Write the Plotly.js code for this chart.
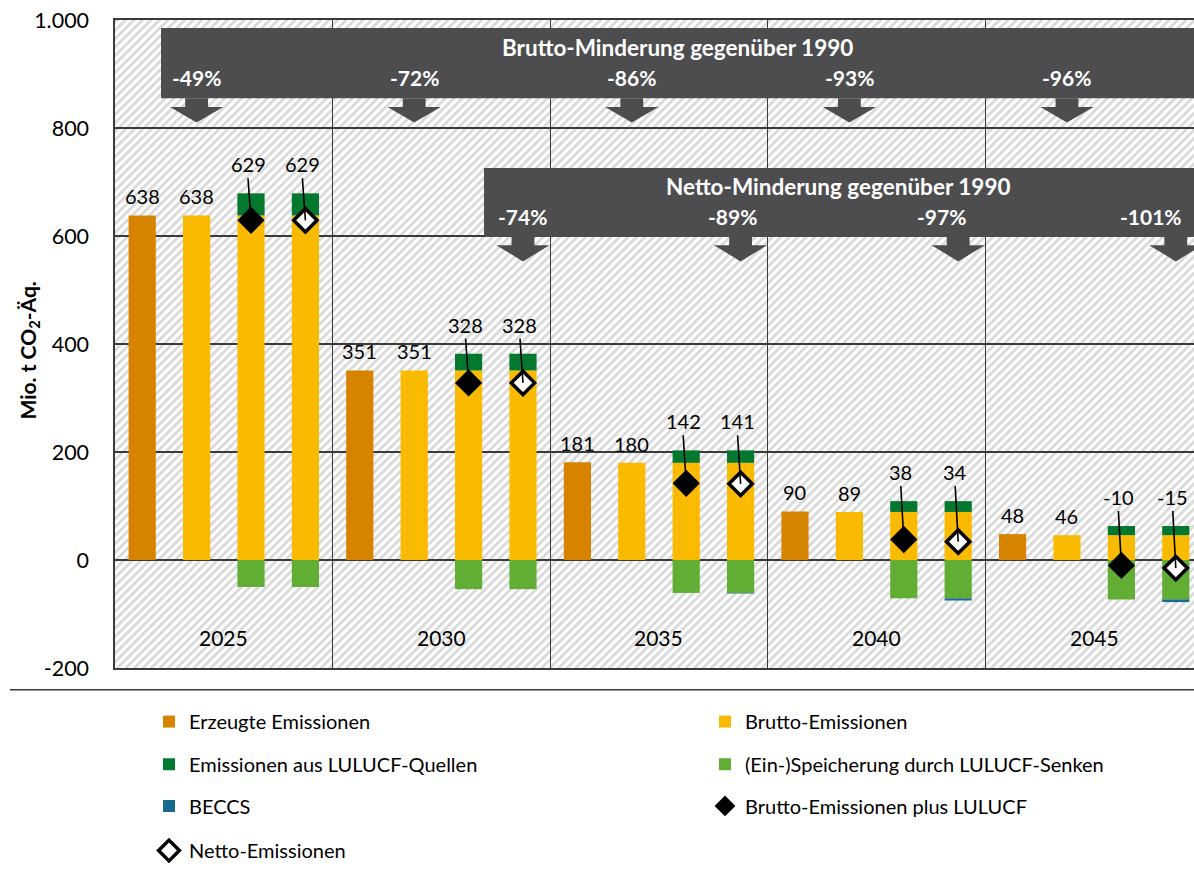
<!DOCTYPE html>
<html><head><meta charset="utf-8">
<script src="https://cdn.plot.ly/plotly-3.0.1.min.js"></script>
<style>html,body{margin:0;padding:0;background:#fff}#chart{width:1194px;height:870px}</style>
</head><body><div id="chart"></div>
<script>
// ---------- data ----------
const years = ['2025','2030','2035','2040','2045'];
const erzeugt = [638, 351, 181, 90, 48];
const brutto = [638, 351, 180, 89, 46];
const lulucfQuellen = [41, 31, 23, 20, 17];
const lulucfSenken = [-50, -54, -61, -71, -73];
const beccs = [0, 0, -1, -4, -5];
const bruttoPlusLulucf = [629, 328, 142, 38, -10];
const netto = [629, 328, 141, 34, -15];
const bruttoMinderung = ['-49%', '-72%', '-86%', '-93%', '-96%'];
const nettoYears = ['2030', '2035', '2040', '2045'];
const nettoMinderung = ['-74%', '-89%', '-97%', '-101%'];
const yTickVals = [-200, 0, 200, 400, 600, 800, 1000];
const yTickText = ['-200', '0', '200', '400', '600', '800', '1.000'];
const names = {
  erzeugt: 'Erzeugte Emissionen',
  brutto: 'Brutto-Emissionen',
  quellen: 'Emissionen aus LULUCF-Quellen',
  senken: '(Ein-)Speicherung durch LULUCF-Senken',
  beccs: 'BECCS',
  bpl: 'Brutto-Emissionen plus LULUCF',
  netto: 'Netto-Emissionen'
};
const bannerTitles = ['Brutto-Minderung gegenüber 1990', 'Netto-Minderung gegenüber 1990'];

// ---------- layout constants ----------
const W = 1194, H = 870;
const L = 115, R = 0, T = 20, B = 197;
const plotW = W - L - R, plotH = H - T - B;
const xMin = -0.5, xMax = 19.335;
const yMin = -200, yMax = 1000;
const FONT = 'Lato, "Open Sans", sans-serif';
const C = {
  erzeugt: '#D68400', brutto: '#FABA00', quellen: '#04782E',
  senken: '#62AE35', beccs: '#166A8E', banner: '#4D4D4F', grid: '#3a3a3a'
};
const barW = 0.5;
const slot = (g, k) => 4 * g + k;
const gi = years.map((_, g) => g);
const rep = (arr, n) => [].concat(...Array(n).fill(arr));

// ---------- traces ----------
const traces = [
  {type: 'bar', name: names.erzeugt, x: gi.map(g => slot(g, 0)), y: erzeugt,
   width: barW, marker: {color: C.erzeugt}, legend: 'legend'},
  {type: 'bar', name: names.brutto,
   x: [].concat(gi.map(g => slot(g, 1)), gi.map(g => slot(g, 2)), gi.map(g => slot(g, 3))),
   y: rep(brutto, 3), width: barW, marker: {color: C.brutto}, legend: 'legend2'},
  {type: 'bar', name: names.quellen,
   x: [].concat(gi.map(g => slot(g, 2)), gi.map(g => slot(g, 3))),
   y: rep(lulucfQuellen, 2), width: barW, marker: {color: C.quellen}, legend: 'legend3'},
  {type: 'bar', name: names.senken,
   x: [].concat(gi.map(g => slot(g, 2)), gi.map(g => slot(g, 3))),
   y: rep(lulucfSenken, 2), width: barW, marker: {color: C.senken}, legend: 'legend4'},
  {type: 'bar', name: names.beccs, x: gi.map(g => slot(g, 3)), y: beccs,
   width: barW, marker: {color: C.beccs}, legend: 'legend5'},
  {type: 'scatter', mode: 'markers', name: names.bpl, x: gi.map(g => slot(g, 2)), y: bruttoPlusLulucf,
   marker: {symbol: 'diamond', size: 21, color: '#000'}, legend: 'legend6'},
  {type: 'scatter', mode: 'markers', name: names.netto, x: gi.map(g => slot(g, 3)), y: netto,
   marker: {symbol: 'diamond', size: 18, color: '#fff', line: {color: '#000', width: 3.5}}, legend: 'legend7'}
];

// ---------- annotations ----------
const ann = [];
const labelFont = {family: FONT, size: 20, color: '#000'};
gi.forEach(g => {
  ann.push({x: slot(g, 0), y: erzeugt[g], text: String(erzeugt[g]), showarrow: false,
    yanchor: 'bottom', yshift: 5, font: labelFont});
  ann.push({x: slot(g, 1), y: brutto[g], text: String(brutto[g]), showarrow: false,
    yanchor: 'bottom', yshift: 5, font: labelFont});
  const top = brutto[g] + lulucfQuellen[g];
  [[2, bruttoPlusLulucf[g]], [3, netto[g]]].forEach(([k, v]) => {
    ann.push({x: slot(g, k), y: v, text: String(v), showarrow: true, arrowhead: 0,
      arrowwidth: 1.6, arrowcolor: '#000', standoff: 0, startstandoff: 0,
      axref: 'pixel', ax: -3, ayref: 'y', ay: top + 28, yanchor: 'bottom',
      font: labelFont});
  });
  ann.push({x: slot(g, 1.5), y: -143, text: years[g], showarrow: false,
    font: {family: FONT, size: 21, color: '#000'}});
});

// y-axis title
ann.push({xref: 'paper', yref: 'paper', x: (29 - L) / plotW, y: 0.49, xanchor: 'center',
  yanchor: 'middle', textangle: -90,
  text: '<b>Mio. t CO<sub>2</sub>-Äq.</b>', showarrow: false,
  font: {family: FONT, size: 21, color: '#000'}});

// ---------- banners ----------
const shapes = [];
const bruttoBanner = {x0: 0.346, y0: 855, y1: 985, arrowHead: 839, tip: 810};
const nettoBanner = {x0: 6.283, y0: 598, y1: 726, arrowHead: 583, tip: 553};
const stemHW = 0.21, headHW = 0.49;
function arrow(xc, b) {
  return 'M' + (xc - stemHW) + ',' + b.y0 + ' L' + (xc + stemHW) + ',' + b.y0 +
    ' L' + (xc + stemHW) + ',' + b.arrowHead + ' L' + (xc + headHW) + ',' + b.arrowHead +
    ' L' + xc + ',' + b.tip + ' L' + (xc - headHW) + ',' + b.arrowHead +
    ' L' + (xc - stemHW) + ',' + b.arrowHead + ' Z';
}
[bruttoBanner, nettoBanner].forEach((b, i) => {
  shapes.push({type: 'rect', xref: 'x', yref: 'y', x0: b.x0, x1: xMax + 2, y0: b.y0, y1: b.y1,
    fillcolor: C.banner, line: {width: 0}, layer: 'above'});
  ann.push({x: (b.x0 + xMax) / 2, y: b.y1 - 35, text: '<b>' + bannerTitles[i] + '</b>',
    showarrow: false, font: {family: FONT, size: 22.5, color: '#fff'}});
});
gi.forEach(g => {
  const xc = slot(g, 1);
  shapes.push({type: 'path', xref: 'x', yref: 'y', path: arrow(xc, bruttoBanner),
    fillcolor: C.banner, line: {width: 0}, layer: 'above'});
  ann.push({x: xc, y: 893, text: '<b>' + bruttoMinderung[g] + '</b>', showarrow: false,
    font: {family: FONT, size: 21, color: '#fff'}});
});
nettoYears.forEach((yr, j) => {
  const g = years.indexOf(yr);
  const xc = slot(g, 3);
  shapes.push({type: 'path', xref: 'x', yref: 'y', path: arrow(xc, nettoBanner),
    fillcolor: C.banner, line: {width: 0}, layer: 'above'});
  ann.push({x: Math.min(xc - 0.15 * j, xMax - 0.78), y: 636, text: '<b>' + nettoMinderung[j] + '</b>',
    showarrow: false, font: {family: FONT, size: 21, color: '#fff'}});
});

// separator line below the plot
shapes.push({type: 'line', xref: 'paper', yref: 'paper', x0: (10 - L) / plotW, x1: 1,
  y0: -22 / plotH, y1: -22 / plotH, line: {color: '#3a3a3a', width: 1.5}});

// ---------- hatch background ----------
const svg = '<svg xmlns="http://www.w3.org/2000/svg" width="' + plotW + '" height="' + plotH + '">' +
  '<defs><pattern id="h" width="6" height="6" patternUnits="userSpaceOnUse" patternTransform="rotate(45)">' +
  '<rect width="6" height="6" fill="#ffffff"/><rect width="2.8" height="6" fill="#d9d9d9"/></pattern></defs>' +
  '<rect width="100%" height="100%" fill="url(#h)"/></svg>';
const hatch = 'data:image/svg+xml;base64,' + btoa(svg);

// ---------- legends ----------
const legendFont = {family: FONT, size: 20, color: '#000'};
const col1 = (149 - L) / plotW, col2 = (705 - L) / plotW;
const rowY = py => (T + plotH - py) / plotH;
const mkLeg = (x, py) => ({x: x, y: rowY(py), xanchor: 'left', yanchor: 'middle',
  orientation: 'h', bgcolor: 'rgba(0,0,0,0)', font: legendFont, borderwidth: 0});

const layout = {
  width: W, height: H,
  margin: {l: L, r: R, t: T, b: B, pad: 0},
  paper_bgcolor: '#fff', plot_bgcolor: 'rgba(0,0,0,0)',
  separators: ',.',
  barmode: 'relative',
  font: {family: FONT, size: 20, color: '#000'},
  xaxis: {range: [xMin, xMax], tickvals: [3.5, 7.5, 11.5, 15.5], showticklabels: false,
    ticks: '', showgrid: true, gridcolor: C.grid, gridwidth: 1.3, zeroline: false,
    showline: true, mirror: true, linecolor: C.grid, linewidth: 1.6, fixedrange: true},
  yaxis: {range: [yMin, yMax], tickvals: yTickVals, ticktext: yTickText,
    tickfont: {family: FONT, size: 21.5, color: '#000'}, ticks: '', ticklabelstandoff: 20,
    showgrid: true, gridcolor: C.grid, gridwidth: 1.3, zeroline: false,
    showline: true, linecolor: C.grid, linewidth: 1.6, fixedrange: true},
  images: [{source: hatch, xref: 'paper', yref: 'paper', x: 0, y: 1, sizex: 1, sizey: 1,
    xanchor: 'left', yanchor: 'top', sizing: 'stretch', layer: 'below'}],
  shapes: shapes,
  annotations: ann,
  legend: mkLeg(col1, 727),
  legend2: mkLeg(col2, 727),
  legend3: mkLeg(col1, 770),
  legend4: mkLeg(col2, 770),
  legend5: mkLeg(col1, 812),
  legend6: mkLeg(col2, 812),
  legend7: mkLeg(col1, 857),
  showlegend: true
};

Plotly.newPlot('chart', traces, layout, {displayModeBar: false, staticPlot: true});
</script>
</body></html>
